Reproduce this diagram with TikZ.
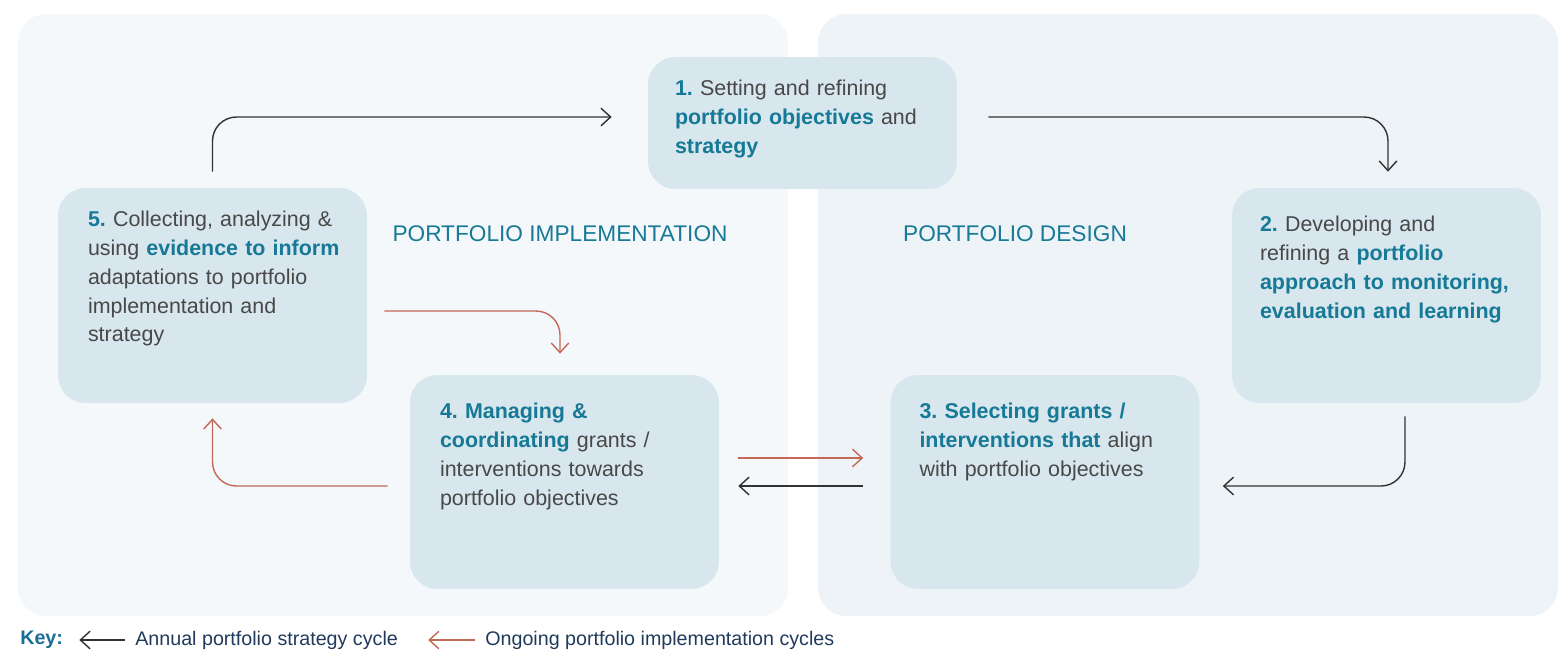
\documentclass[tikz,border=0pt]{standalone}
\usepackage{fontspec}
\setmainfont{Liberation Sans}
\usetikzlibrary{arrows.meta}
\frenchspacing

\definecolor{tealtxt}{RGB}{22,122,150}
\definecolor{graytxt}{RGB}{72,72,72}
\definecolor{boxfill}{RGB}{216,230,238}
\definecolor{leftbg}{RGB}{244,248,251}
\definecolor{rightbg}{RGB}{238,243,248}
\definecolor{arrowred}{RGB}{196,104,88}
\definecolor{arrowblack}{RGB}{50,50,50}
\definecolor{keytxt}{RGB}{32,58,92}
\definecolor{keyblue}{RGB}{26,110,150}

\newcommand{\hl}[1]{\textbf{\color{tealtxt}#1}}

\tikzset{
    box/.style={fill=boxfill, rounded corners=0.55cm, minimum width=6.18cm, inner sep=0},
    boxtext/.style={anchor=base west, text width=6cm, align=left, inner sep=0,
        text=graytxt, font=\fontsize{12.2}{16.4}\selectfont},
    panellabel/.style={text=tealtxt, font=\fontsize{12.9}{15}\selectfont},
    keylabel/.style={anchor=west, inner sep=0, text=keytxt, font=\fontsize{11.2}{13}\selectfont},
    annual/.style={-{Straight Barb[length=5.5pt,width=10pt]}, draw=arrowblack, line width=0.8pt, rounded corners=0.48cm},
    ongoing/.style={-{Straight Barb[length=5.5pt,width=10pt]}, draw=arrowred, line width=0.8pt, rounded corners=0.48cm},
}

\begin{document}
\begin{tikzpicture}[x=0.02cm, y=-0.02cm]
    \useasboundingbox (0,0) rectangle (1561,650);

    % Pannelli
    \fill[leftbg, rounded corners=0.56cm] (18,14) rectangle (788,616);
    \fill[rightbg, rounded corners=0.56cm] (818,14) rectangle (1558,616);
    \node[panellabel] (impl) at (560,234) {PORTFOLIO IMPLEMENTATION};
    \node[panellabel] (design) at (1015,234) {PORTFOLIO DESIGN};

    % Riquadri
    \node[box, minimum height=2.64cm] (b1) at (802.5,123) {};
    \node[box, minimum height=4.3cm] (b2) at (1386.5,295.5) {};
    \node[box, minimum height=4.28cm] (b3) at (1045,482) {};
    \node[box, minimum height=4.28cm] (b4) at (564.5,482) {};
    \node[box, minimum height=4.3cm] (b5) at (212.5,295.5) {};

    % Testi
    \node[boxtext] (t1) at ([xshift=0.54cm, yshift=-0.78cm]b1.north west)
        {\hl{1.} Setting and refining\\ \hl{portfolio objectives} and\\ \hl{strategy}};
    \node[boxtext] (t2) at ([xshift=0.56cm, yshift=-0.88cm]b2.north west)
        {\hl{2.} Developing and\\ refining a \hl{portfolio}\\ \hl{approach to monitoring,}\\ \hl{evaluation and learning}};
    \node[boxtext] (t3) at ([xshift=0.58cm, yshift=-0.88cm]b3.north west)
        {\hl{3. Selecting grants /}\\ \hl{interventions that} align\\ with portfolio objectives};
    \node[boxtext] (t4) at ([xshift=0.6cm, yshift=-0.88cm]b4.north west)
        {\hl{4. Managing \&}\\ \hl{coordinating} grants /\\ interventions towards\\ portfolio objectives};
    \node[boxtext] (t5) at ([xshift=0.6cm, yshift=-0.78cm]b5.north west)
        {\hl{5.} Collecting, analyzing \&\\ using \hl{evidence to inform}\\ adaptations to portfolio\\ implementation and\\ strategy};

    % Ciclo annuale
    \draw[annual] ([yshift=0.32cm]b5.north) |- ([xshift=-0.72cm, yshift=0.12cm]b1.west);
    \draw[annual] ([xshift=0.62cm, yshift=0.12cm]b1.east) -| ([xshift=0.03cm, yshift=0.32cm]b2.north);
    \draw[annual] ([xshift=0.37cm, yshift=-0.26cm]b2.south) |- ([xshift=0.46cm, yshift=-0.08cm]b3.east);
    \draw[annual] ([xshift=-0.54cm, yshift=-0.08cm]b3.west) -- ([xshift=0.38cm, yshift=-0.08cm]b4.east);

    % Cicli di implementazione
    \draw[ongoing] ([xshift=0.38cm, yshift=0.48cm]b4.east) -- ([xshift=-0.54cm, yshift=0.48cm]b3.west);
    \draw[ongoing] ([xshift=-0.44cm, yshift=-0.08cm]b4.west) -| ([yshift=-0.3cm]b5.south);
    \draw[ongoing] ([xshift=0.34cm, yshift=-0.31cm]b5.east) -| ([xshift=-0.09cm, yshift=0.42cm]b4.north);

    % Legenda
    \node[keylabel, text=keyblue, font=\fontsize{11.2}{13}\selectfont\bfseries] (key) at (20,640) {Key:};
    \node[keylabel] (kannual) at (135,640) {Annual portfolio strategy cycle};
    \node[keylabel] (kongoing) at (485,640) {Ongoing portfolio implementation cycles};
    \draw[annual] ([xshift=-0.2cm]kannual.west) -- ([xshift=0.32cm]key.east);
    \draw[ongoing] ([xshift=-0.2cm]kongoing.west) -- ([xshift=0.6cm]kannual.east);
\end{tikzpicture}
\end{document}
